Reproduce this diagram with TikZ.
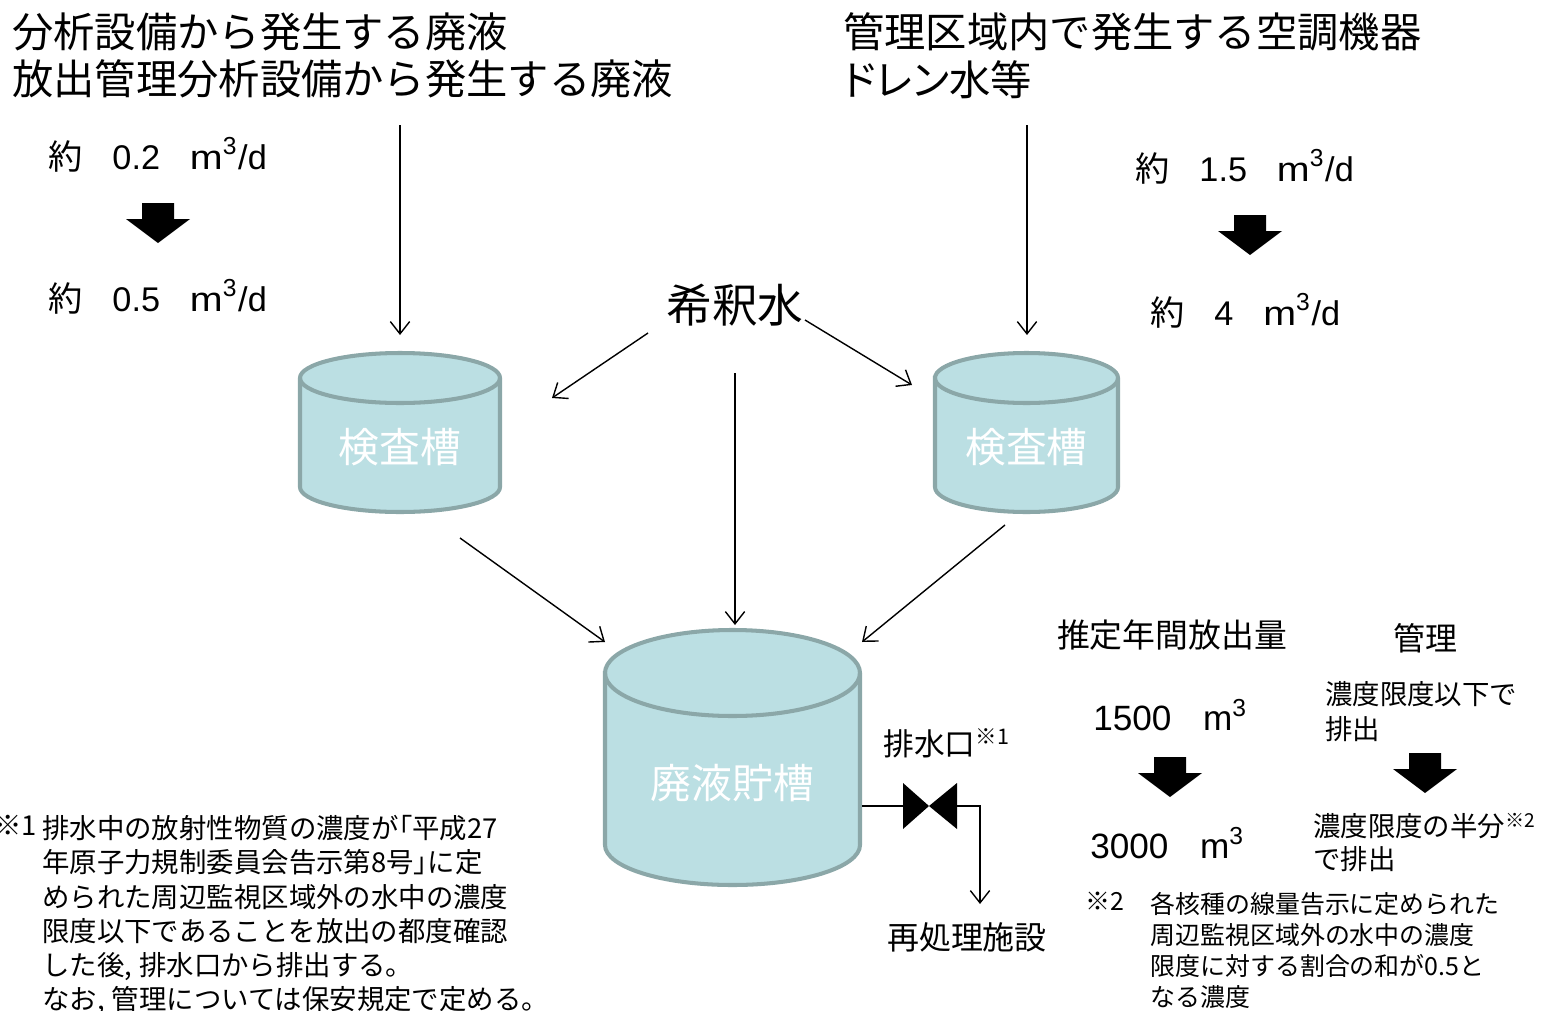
\documentclass[tikz,border=0pt]{standalone}
\usepackage{fontspec}
\usepackage{graphicx}
\setmainfont{Noto Sans CJK JP}
\newfontfamily\jp{Noto Sans CJK JP}
\newfontfamily\jpp[RawFeature=+palt]{Noto Sans CJK JP}
\newfontfamily\lat{Liberation Sans}
\usetikzlibrary{arrows.meta}
\definecolor{tankfill}{HTML}{BBDFE3}
\definecolor{tankline}{HTML}{8BA7A8}
\newcommand\fsz[2]{\fontsize{#1}{#2}\selectfont}
\newcommand\cubed{\raisebox{0.42em}{\fsz{14pt}{14pt}3}}
\newcommand\wm{\scalebox{1.15}[1]{m}}
\tikzset{
  flow/.style={draw=black,line width=0.8pt,-{Straight Barb[length=7pt,width=11pt]}},
  plainline/.style={draw=black,line width=0.8pt},
  tankbody/.style={fill=tankfill,draw=tankline,line width=2.3pt},
  tankrim/.style={draw=tankline,line width=2.3pt},
  tanklabel/.style={text=white,font=\fsz{23.2pt}{27pt},inner sep=0pt},
  txt/.style={inner sep=0pt,align=left,anchor=north west},
  qty/.style={inner sep=0pt,anchor=west,font=\lat\fsz{19.5pt}{23pt}},
  bigarrow/.pic={\fill[black] (-16,0) -- (16,0) -- (16,-16) -- (32,-16) -- (0,-40) -- (-32,-16) -- (-16,-16) -- cycle;}
}
\begin{document}
\begin{tikzpicture}[x=0.02cm,y=0.02cm]
\useasboundingbox (0,0) rectangle (1546,-1011);

% ---------- source texts ----------
\node[txt,font=\fsz{23.5pt}{27.2pt}] (srcA) at (12,-12) {分析設備から発生する廃液\\放出管理分析設備から発生する廃液};
\node[txt,font=\fsz{23.5pt}{27.2pt}] (srcB) at (843,-12) {管理区域内で発生する空調機器\\{\jpp ドレン}水等};

% ---------- quantities ----------
\node[qty] (qA1) at (48,-155) {{\jp 約}\hspace{17pt}0.2\hspace{17pt}\wm\cubed\hspace{1pt}/d};
\pic at (158,-203) {bigarrow};
\node[qty] (qA2) at (48,-297) {{\jp 約}\hspace{17pt}0.5\hspace{17pt}\wm\cubed\hspace{1pt}/d};

\node[qty] (qB1) at (1135,-167) {{\jp 約}\hspace{17pt}1.5\hspace{17pt}\wm\cubed\hspace{1pt}/d};
\pic at (1250,-215) {bigarrow};
\node[qty] (qB2) at (1150,-311) {{\jp 約}\hspace{17pt}4\hspace{17pt}\wm\cubed\hspace{1pt}/d};

% ---------- dilution water ----------
\node[inner sep=0pt,font=\fsz{26pt}{30pt}] (dil) at (735,-305) {希釈水};

% ---------- tanks ----------
% left inspection tank
\path[tankbody] (300,-378) -- (300,-487) arc[start angle=180,end angle=360,x radius=100,y radius=25] -- (500,-378) arc[start angle=0,end angle=180,x radius=100,y radius=25] -- cycle;
\draw[tankrim] (300,-378) arc[start angle=180,end angle=360,x radius=100,y radius=25];
\node[tanklabel] (tankL) at (400,-447) {検査槽};

% right inspection tank
\path[tankbody] (935,-378) -- (935,-487) arc[start angle=180,end angle=360,x radius=91.5,y radius=25] -- (1118,-378) arc[start angle=0,end angle=180,x radius=91.5,y radius=25] -- cycle;
\draw[tankrim] (935,-378) arc[start angle=180,end angle=360,x radius=91.5,y radius=25];
\node[tanklabel] (tankR) at (1026.5,-447) {検査槽};

% storage tank
\path[tankbody] (605,-673) -- (605,-845) arc[start angle=180,end angle=360,x radius=127.5,y radius=40] -- (860,-673) arc[start angle=0,end angle=180,x radius=127.5,y radius=43] -- cycle;
\draw[tankrim] (605,-673) arc[start angle=180,end angle=360,x radius=127.5,y radius=43];
\node[tanklabel] (store) at (732.5,-783) {廃液貯槽};

% ---------- connector end points ----------
\coordinate (aS) at (400,-125);   \coordinate (aE) at (400,-335);
\coordinate (bS) at (1027,-125);  \coordinate (bE) at (1027,-335);
\coordinate (d1S) at (648,-333);  \coordinate (d1E) at (552,-398);
\coordinate (d2S) at (735,-373);  \coordinate (d2E) at (735,-625);
\coordinate (d3S) at (805,-320);  \coordinate (d3E) at (912,-385);
\coordinate (tLS) at (460,-538);  \coordinate (tLE) at (605,-642);
\coordinate (tRS) at (1005,-525); \coordinate (tRE) at (862,-642);
\coordinate (outS) at (862,-806);
\coordinate (vL) at (903,-806);   \coordinate (vC) at (929,-806);  \coordinate (vR) at (957,-806);
\coordinate (bend) at (980,-806); \coordinate (reE) at (980,-904);

\draw[flow] (aS) -- (aE);
\draw[flow] (bS) -- (bE);
\draw[flow] (d1S) -- (d1E);
\draw[flow] (d2S) -- (d2E);
\draw[flow] (d3S) -- (d3E);
\draw[flow] (tLS) -- (tLE);
\draw[flow] (tRS) -- (tRE);

% ---------- valve and outlet ----------
\draw[plainline] (outS) -- (vL);
\fill[black] (903,-783) -- (vC) -- (903,-829) -- cycle;
\fill[black] (957,-783) -- (vC) -- (957,-829) -- cycle;
\draw[flow] (vR) -- (bend) -- (reE);

\node[inner sep=0pt,anchor=west,font=\fsz{17.5pt}{21pt}] (outlet) at (883,-743) {排水口\textsuperscript{※1}};
\node[inner sep=0pt,font=\fsz{18.2pt}{22pt}] (repro) at (967,-937) {再処理施設};

% ---------- annual release ----------
\node[inner sep=0pt,font=\fsz{18.7pt}{22pt}] (annual) at (1172,-635) {推定年間放出量};
\node[inner sep=0pt,anchor=west,font=\lat\fsz{20pt}{24pt}] (r1) at (1093,-715) {1500\hspace{18pt}m\cubed};
\pic at (1170,-757) {bigarrow};
\node[inner sep=0pt,anchor=west,font=\lat\fsz{20pt}{24pt}] (r2) at (1090,-843) {3000\hspace{18pt}m\cubed};

% ---------- management ----------
\node[inner sep=0pt,font=\fsz{18.2pt}{22pt}] (mgmt) at (1425,-638) {管理};
\node[txt,font=\fsz{15.6pt}{19.8pt}] (m1) at (1325,-681) {濃度限度以下で\\排出};
\pic at (1425,-753) {bigarrow};
\node[txt,font=\fsz{15.6pt}{18.8pt}] (m2) at (1313,-813) {濃度限度の半分\textsuperscript{※2}\\で排出};

% ---------- footnotes ----------
\node[txt,font=\fsz{14.2pt}{17.6pt}] (n2mark) at (1085,-892) {※2};
\node[txt,font=\fsz{14.2pt}{17.6pt}] (n2) at (1150,-892) {各核種の線量告示に定められた\\周辺監視区域外の水中の濃度\\限度に対する割合の和が0.5と\\なる濃度};

\node[txt,font=\fsz{15.6pt}{19.5pt}] (n1mark) at (-6,-815) {※1};
\node[txt,font=\fsz{15.6pt}{19.5pt}] (n1) at (42,-815) {排水中の放射性物質の濃度が{\jpp 「}平成27\\年原子力規制委員会告示第8号{\jpp 」}に定\\められた周辺監視区域外の水中の濃度\\限度以下であることを放出の都度確認\\した後,\hspace{4pt}排水口から排出する。\\なお,\hspace{4pt}管理については保安規定で定める。};
\end{tikzpicture}
\end{document}
